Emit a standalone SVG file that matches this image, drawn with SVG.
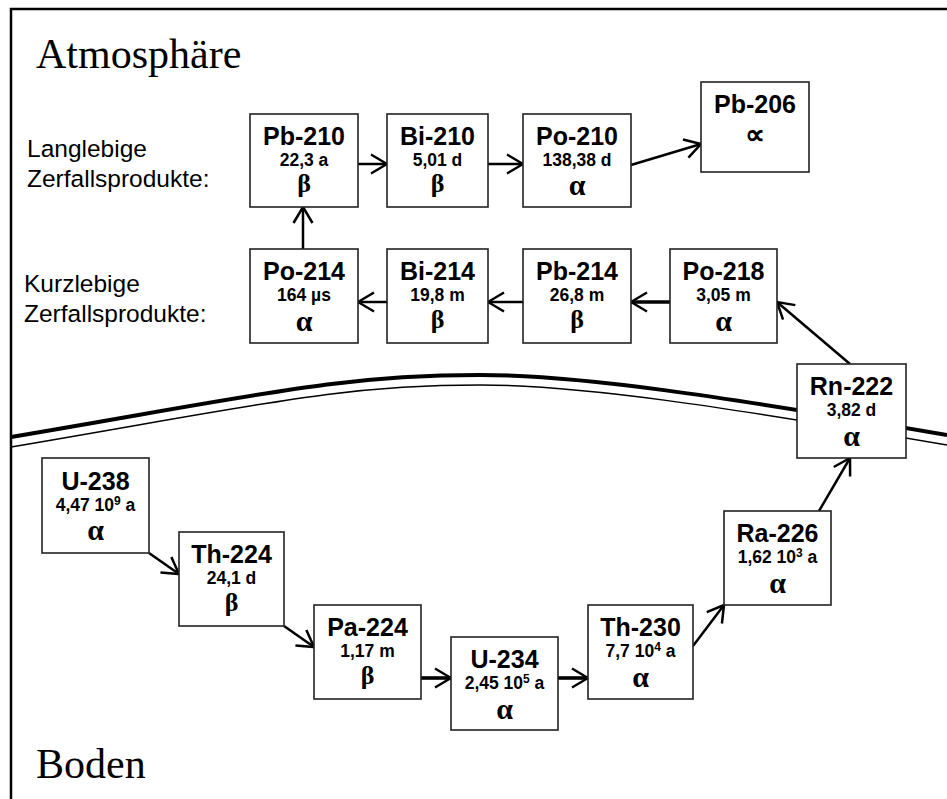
<svg xmlns="http://www.w3.org/2000/svg" width="947" height="799" viewBox="0 0 947 799">
<defs>
<style>
.box{fill:#fff;stroke:#222;stroke-width:1.6}
.t{font-family:"Liberation Sans",Arial,sans-serif;font-weight:bold;font-size:25px;text-anchor:middle;fill:#000}
.h{font-family:"Liberation Sans",Arial,sans-serif;font-weight:bold;font-size:17.5px;text-anchor:middle;fill:#000}
.s{font-family:"Liberation Serif","Times New Roman",serif;font-weight:bold;font-size:30px;text-anchor:middle;fill:#000}
.sb{font-family:"Liberation Serif","Times New Roman",serif;font-weight:bold;font-size:26px;text-anchor:middle;fill:#000}
.lab{font-family:"Liberation Sans",Arial,sans-serif;font-size:24.5px;fill:#000}
.big{font-family:"Liberation Serif","Times New Roman",serif;font-size:42px;fill:#000}
.c{fill:none;stroke:#000;stroke-width:2.5}
.ck{fill:none;stroke:#000;stroke-width:3.6}
</style>
<marker id="ah" markerUnits="userSpaceOnUse" viewBox="0 0 18 22" refX="17" refY="11" markerWidth="18" markerHeight="22" orient="auto">
<path d="M1,1.5 L17,11 L1,20.5" fill="none" stroke="#000" stroke-width="2.5"/>
</marker>
</defs>
<rect x="0" y="0" width="947" height="799" fill="#fff"/>
<path d="M11,799 L11,9 L947,9" fill="none" stroke="#000" stroke-width="2.5"/>
<g id="ground-line">
<path d="M11,437 C270,393 340,375 480,375 C580,375 720,396 947,435" fill="none" stroke="#000" stroke-width="4"/>
<path d="M11,447 C270,403 340,385 480,385 C580,385 720,406 947,445" fill="none" stroke="#000" stroke-width="1.5"/>
</g>
<text class="big" x="36" y="68">Atmosphäre</text>
<text class="big" x="36" y="778">Boden</text>
<text class="lab" x="27" y="157">Langlebige</text>
<text class="lab" x="27" y="187">Zerfallsprodukte:</text>
<text class="lab" x="24" y="292">Kurzlebige</text>
<text class="lab" x="24" y="322">Zerfallsprodukte:</text>
<g id="connectors">
<line class="c" x1="358" y1="164" x2="387" y2="164" marker-end="url(#ah)"/>
<line class="c" x1="488" y1="164" x2="523" y2="164" marker-end="url(#ah)"/>
<line class="c" x1="631" y1="165" x2="701" y2="144" marker-end="url(#ah)"/>
<line class="c" x1="303" y1="249" x2="303" y2="207" marker-end="url(#ah)"/>
<line class="c" x1="387" y1="302" x2="358" y2="302" marker-end="url(#ah)"/>
<line class="c" x1="523" y1="302" x2="488" y2="302" marker-end="url(#ah)"/>
<line class="ck" x1="670" y1="302" x2="631" y2="302" marker-end="url(#ah)"/>
<line class="c" x1="850" y1="364" x2="777" y2="302" marker-end="url(#ah)"/>
<line class="c" x1="819" y1="511" x2="850" y2="458" marker-end="url(#ah)"/>
<line class="c" x1="693" y1="646" x2="724" y2="605" marker-end="url(#ah)"/>
<line class="ck" x1="558" y1="678" x2="588" y2="678" marker-end="url(#ah)"/>
<line class="ck" x1="421" y1="678" x2="451" y2="678" marker-end="url(#ah)"/>
<line class="c" x1="284" y1="626" x2="314" y2="647" marker-end="url(#ah)"/>
<line class="c" x1="149" y1="553" x2="179" y2="574" marker-end="url(#ah)"/>
</g>
<g id="Pb-210"><rect class="box" x="250" y="114" width="108" height="93"/><text class="t" x="304" y="145">Pb-210</text><text class="h" x="304" y="166">22,3 a</text><text class="sb" x="304" y="192">β</text></g>
<g id="Bi-210"><rect class="box" x="387" y="114" width="101" height="93"/><text class="t" x="437.5" y="145">Bi-210</text><text class="h" x="437.5" y="166">5,01 d</text><text class="sb" x="437.5" y="192">β</text></g>
<g id="Po-210"><rect class="box" x="523" y="114" width="108" height="93"/><text class="t" x="577" y="145">Po-210</text><text class="h" x="577" y="166">138,38 d</text><text class="s" x="577" y="195">α</text></g>
<g id="Pb-206"><rect class="box" x="701" y="82" width="108" height="90"/><text class="t" x="755" y="113">Pb-206</text><text class="s" x="755" y="144" style="font-size:28px">∝</text></g>
<g id="Po-214"><rect class="box" x="250" y="249" width="108" height="94"/><text class="t" x="304" y="280">Po-214</text><text class="h" x="304" y="301">164 µs</text><text class="s" x="304" y="331">α</text></g>
<g id="Bi-214"><rect class="box" x="387" y="249" width="101" height="94"/><text class="t" x="437.5" y="280">Bi-214</text><text class="h" x="437.5" y="301">19,8 m</text><text class="sb" x="437.5" y="328">β</text></g>
<g id="Pb-214"><rect class="box" x="523" y="249" width="108" height="94"/><text class="t" x="577" y="280">Pb-214</text><text class="h" x="577" y="301">26,8 m</text><text class="sb" x="577" y="328">β</text></g>
<g id="Po-218"><rect class="box" x="670" y="249" width="107" height="94"/><text class="t" x="723.5" y="280">Po-218</text><text class="h" x="723.5" y="301">3,05 m</text><text class="s" x="723.5" y="331">α</text></g>
<g id="Rn-222"><rect class="box" x="797" y="364" width="109" height="94"/><text class="t" x="851.5" y="395">Rn-222</text><text class="h" x="851.5" y="416">3,82 d</text><text class="s" x="851.5" y="446">α</text></g>
<g id="Ra-226"><rect class="box" x="724" y="511" width="107" height="94"/><text class="t" x="777.5" y="542">Ra-226</text><text class="h" x="777.5" y="563">1,62 10<tspan font-size="12" dy="-6">3</tspan><tspan dy="6"> a</tspan></text><text class="s" x="777.5" y="593">α</text></g>
<g id="Th-230"><rect class="box" x="588" y="605" width="105" height="94"/><text class="t" x="640.5" y="636">Th-230</text><text class="h" x="640.5" y="657">7,7 10<tspan font-size="12" dy="-6">4</tspan><tspan dy="6"> a</tspan></text><text class="s" x="640.5" y="687">α</text></g>
<g id="U-234"><rect class="box" x="451" y="637" width="107" height="93"/><text class="t" x="504.5" y="668">U-234</text><text class="h" x="504.5" y="689">2,45 10<tspan font-size="12" dy="-6">5</tspan><tspan dy="6"> a</tspan></text><text class="s" x="504.5" y="719">α</text></g>
<g id="Pa-224"><rect class="box" x="314" y="605" width="107" height="94"/><text class="t" x="367.5" y="636">Pa-224</text><text class="h" x="367.5" y="657">1,17 m</text><text class="sb" x="367.5" y="684">β</text></g>
<g id="Th-224"><rect class="box" x="179" y="532" width="105" height="94"/><text class="t" x="231.5" y="563">Th-224</text><text class="h" x="231.5" y="584">24,1 d</text><text class="sb" x="231.5" y="611">β</text></g>
<g id="U-238"><rect class="box" x="42" y="458" width="107" height="95"/><text class="t" x="95.5" y="490">U-238</text><text class="h" x="95.5" y="511">4,47 10<tspan font-size="12" dy="-6">9</tspan><tspan dy="6"> a</tspan></text><text class="s" x="95.5" y="540">α</text></g>
</svg>
